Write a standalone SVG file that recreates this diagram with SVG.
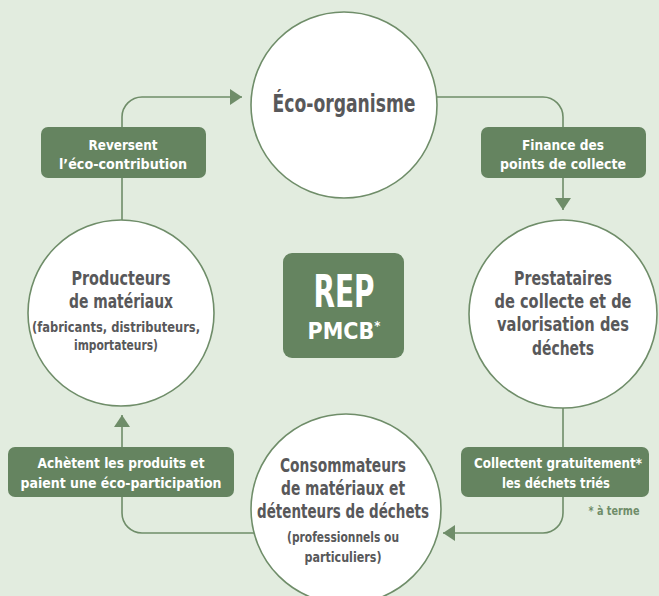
<svg xmlns="http://www.w3.org/2000/svg" width="659" height="596" viewBox="0 0 659 596">
<defs>
<style>
.bg{fill:#e2ecdf}
.node{fill:#ffffff;stroke:#6f8d69;stroke-width:1.6}
.box{fill:#658460}
.conn{fill:none;stroke:#6f8d69;stroke-width:1.6}
.nt{font-family:"Liberation Sans Narrow","DejaVu Sans Condensed","Liberation Sans",sans-serif;fill:#58585a;text-anchor:middle;font-weight:bold}
.bt{font-family:"Liberation Sans Narrow","DejaVu Sans Condensed","Liberation Sans",sans-serif;fill:#ffffff;text-anchor:middle;font-weight:bold;font-size:14px}
</style>
<marker id="ah" markerUnits="userSpaceOnUse" markerWidth="14" markerHeight="18" refX="12" refY="8" orient="auto">
<path d="M0,0 L12,8 L0,16 Z" fill="#6f8d69"/>
</marker>
</defs>
<rect class="bg" x="0" y="0" width="659" height="596"/>
<g id="connectors">
<path class="conn" d="M122,220 V117 A20,20 0 0 1 142,97 H242" marker-end="url(#ah)"/>
<path class="conn" d="M437,97 H543 A20,20 0 0 1 563,117 V210" marker-end="url(#ah)"/>
<path class="conn" d="M563,408 V513 A20,20 0 0 1 543,533 H443" marker-end="url(#ah)"/>
<path class="conn" d="M254,533 H142 A20,20 0 0 1 122,513 V415" marker-end="url(#ah)"/>
</g>
<g id="eco-organisme">
<circle class="node" cx="344" cy="105" r="93"/>
<text class="nt" x="344" y="112" font-size="25" font-weight="normal" textLength="143" lengthAdjust="spacingAndGlyphs">Éco-organisme</text>
</g>
<g id="producteurs">
<circle class="node" cx="121" cy="313" r="93"/>
<text class="nt" x="121" y="285" font-size="19" textLength="99" lengthAdjust="spacingAndGlyphs">Producteurs</text>
<text class="nt" x="121" y="308" font-size="19" textLength="104" lengthAdjust="spacingAndGlyphs">de matériaux</text>
<text class="nt" x="116" y="332" font-size="14" textLength="168" lengthAdjust="spacingAndGlyphs">(fabricants, distributeurs,</text>
<text class="nt" x="116" y="350" font-size="14" textLength="84" lengthAdjust="spacingAndGlyphs">importateurs)</text>
</g>
<g id="prestataires">
<circle class="node" cx="563" cy="314" r="94"/>
<text class="nt" x="563" y="285" font-size="19" textLength="98" lengthAdjust="spacingAndGlyphs">Prestataires</text>
<text class="nt" x="563" y="308" font-size="19" textLength="137" lengthAdjust="spacingAndGlyphs">de collecte et de</text>
<text class="nt" x="563" y="331" font-size="19" textLength="132" lengthAdjust="spacingAndGlyphs">valorisation des</text>
<text class="nt" x="563" y="355" font-size="19" textLength="62" lengthAdjust="spacingAndGlyphs">déchets</text>
</g>
<g id="consommateurs">
<circle class="node" cx="346" cy="509" r="95"/>
<text class="nt" x="343" y="472" font-size="19" textLength="126" lengthAdjust="spacingAndGlyphs">Consommateurs</text>
<text class="nt" x="343" y="495" font-size="19" textLength="124" lengthAdjust="spacingAndGlyphs">de matériaux et</text>
<text class="nt" x="343" y="518" font-size="19" textLength="172" lengthAdjust="spacingAndGlyphs">détenteurs de déchets</text>
<text class="nt" x="343" y="542" font-size="14" textLength="112" lengthAdjust="spacingAndGlyphs">(professionnels ou</text>
<text class="nt" x="343" y="562" font-size="14" textLength="77" lengthAdjust="spacingAndGlyphs">particuliers)</text>
</g>
<g id="rep">
<rect class="box" x="283" y="253" width="121" height="105" rx="9"/>
<text class="bt" x="344" y="307" style="font-size:44px" textLength="61" lengthAdjust="spacingAndGlyphs">REP</text>
<text class="bt" x="344" y="339" style="font-size:23px">PMCB<tspan dy="-9" style="font-size:13px">*</tspan></text>
</g>
<g id="label-reversent">
<rect class="box" x="41" y="127" width="165" height="51" rx="7"/>
<text class="bt" x="123" y="150" textLength="69" lengthAdjust="spacingAndGlyphs">Reversent</text>
<text class="bt" x="123" y="169" textLength="128" lengthAdjust="spacingAndGlyphs">l’éco-contribution</text>
</g>
<g id="label-finance">
<rect class="box" x="481" y="127" width="165" height="51" rx="7"/>
<text class="bt" x="563" y="150" textLength="82" lengthAdjust="spacingAndGlyphs">Finance des</text>
<text class="bt" x="563" y="169" textLength="126" lengthAdjust="spacingAndGlyphs">points de collecte</text>
</g>
<g id="label-collectent">
<rect class="box" x="461" y="447" width="188" height="50" rx="7"/>
<text class="bt" x="558" y="468" textLength="168" lengthAdjust="spacingAndGlyphs">Collectent gratuitement*</text>
<text class="bt" x="556" y="488" textLength="108" lengthAdjust="spacingAndGlyphs">les déchets triés</text>
</g>
<g id="label-achetent">
<rect class="box" x="8" y="447" width="226" height="50" rx="7"/>
<text class="bt" x="121" y="468" textLength="167" lengthAdjust="spacingAndGlyphs">Achètent les produits et</text>
<text class="bt" x="121" y="488" textLength="201" lengthAdjust="spacingAndGlyphs">paient une éco-participation</text>
</g>
<g id="note">
<text x="614" y="515" style="font-family:'Liberation Sans Narrow','DejaVu Sans Condensed','Liberation Sans',sans-serif;font-size:12px;font-weight:bold;fill:#6f8d69;text-anchor:middle" textLength="51" lengthAdjust="spacingAndGlyphs">* à terme</text>
</g>
</svg>
